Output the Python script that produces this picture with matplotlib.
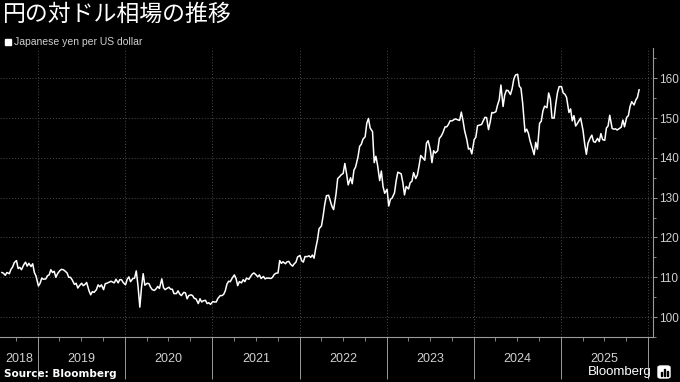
import matplotlib
matplotlib.use('Agg')
import matplotlib.pyplot as plt
import matplotlib.dates as mdates
import matplotlib.patches as patches
import pandas as pd

# weekly-ish readings, four per month, Aug 2018 .. Nov 2025
months = pd.period_range('2018-08', '2025-11', freq='M')
week_days = [3, 10, 17, 24]
yen = [
    # 2018
    111.2, 111.0, 110.5, 111.2,
    110.9, 112.0, 112.6, 113.7,
    114.2, 112.2, 112.5, 111.9,
    113.2, 113.8, 112.8, 113.5,
    112.7, 113.4, 111.2, 110.3,
    # 2019
    107.8, 108.5, 109.8, 109.5,
    109.6, 110.4, 110.6, 111.9,
    111.2, 111.5, 110.0, 110.9,
    111.7, 112.0, 111.9, 111.6,
    111.1, 110.0, 110.0, 109.4,
    108.2, 108.5, 107.3, 107.9,
    108.5, 107.9, 108.2, 108.7,
    106.6, 105.6, 106.4, 106.2,
    106.9, 108.1, 107.6, 108.1,
    106.9, 108.4, 108.5, 108.7,
    109.0, 108.8, 108.6, 109.5,
    108.6, 109.4, 109.4, 108.7,
    # 2020
    108.1, 109.5, 110.1, 108.9,
    109.7, 109.8, 111.6, 108.0,
    102.5, 107.5, 110.9, 108.0,
    108.5, 108.4, 107.5, 106.9,
    106.7, 107.1, 107.7, 107.2,
    109.6, 107.4, 106.9, 107.2,
    107.5, 107.0, 107.0, 105.9,
    105.9, 106.6, 105.8, 105.4,
    106.2, 106.1, 104.6, 105.4,
    105.6, 105.4, 104.7, 104.6,
    103.4, 104.6, 103.8, 104.1,
    104.2, 103.4, 103.6, 103.2,
    # 2021
    103.9, 103.8, 103.8, 104.7,
    105.4, 105.4, 105.7, 106.6,
    108.3, 109.0, 108.9, 109.7,
    110.6, 109.7, 107.9, 108.9,
    108.6, 109.4, 108.9, 109.8,
    109.5, 110.2, 110.8, 111.1,
    110.6, 110.1, 110.6, 109.7,
    110.2, 109.6, 109.8, 109.8,
    109.7, 110.0, 110.7, 111.0,
    111.1, 114.2, 113.5, 113.9,
    113.4, 113.9, 114.0, 113.3,
    112.8, 113.4, 113.8, 115.1,
    # 2022
    115.5, 114.2, 113.8, 115.2,
    115.2, 115.4, 115.0, 115.6,
    114.8, 117.3, 119.3, 122.2,
    122.9, 125.4, 128.4, 130.5,
    130.6, 129.2, 127.8, 127.0,
    130.9, 134.8, 135.2, 135.7,
    136.1, 138.6, 136.1, 133.2,
    135.0, 133.5, 136.9, 137.7,
    140.2, 142.9, 143.4, 144.7,
    145.3, 148.7, 149.9, 147.5,
    146.6, 138.8, 140.4, 138.2,
    134.3, 136.7, 132.8, 131.1,
    # 2023
    132.1, 127.9, 129.6, 129.9,
    131.2, 134.2, 136.4, 136.2,
    136.0, 133.8, 130.7, 132.8,
    132.2, 133.8, 134.1, 136.3,
    134.8, 135.7, 138.0, 140.6,
    139.9, 139.4, 143.7, 144.3,
    142.1, 138.8, 141.8, 141.2,
    141.8, 144.9, 145.4, 146.2,
    147.8, 147.8, 148.4, 149.3,
    149.3, 149.6, 149.8, 149.6,
    149.4, 151.5, 149.4, 146.8,
    144.6, 142.2, 142.4, 141.0,
    # 2024
    144.6, 145.2, 148.1, 148.2,
    148.4, 149.3, 150.2, 150.1,
    147.1, 149.0, 151.4, 151.3,
    151.6, 153.3, 154.6, 158.3,
    152.9, 155.8, 157.0, 156.9,
    155.9, 157.4, 159.8, 160.8,
    161.0, 158.0, 157.5, 153.8,
    146.5, 147.2, 146.2, 144.3,
    142.3, 140.8, 143.9, 142.2,
    148.7, 149.2, 151.8, 153.0,
    152.6, 156.3, 154.8, 150.0,
    150.0, 153.6, 156.4, 157.9,
    # 2025
    157.9, 156.3, 156.0, 155.2,
    151.4, 152.3, 149.3, 150.6,
    148.0, 148.6, 149.3, 150.0,
    146.9, 143.5, 140.9, 143.7,
    145.0, 145.7, 144.1, 143.9,
    144.9, 144.1, 146.1, 144.6,
    144.4, 147.5, 148.0, 150.7,
    147.4, 147.2, 147.3, 147.0,
    147.4, 147.7, 149.5, 147.8,
    150.2, 150.6, 152.9, 154.1,
    153.3, 154.5, 155.2, 157.1,
]
years = list(range(2018, 2026))
yticks = [100, 110, 120, 130, 140, 150, 160]

dates = [pd.Timestamp(year=m.year, month=m.month, day=d) for m in months for d in week_days]

plt.rcParams['font.family'] = ['Liberation Sans', 'DejaVu Sans']
bg = '#000000'
grid_c = '#4a4a4a'
txt_c = '#d0d0d0'

fig = plt.figure(figsize=(6.8, 3.82), dpi=100, facecolor=bg)
ax = fig.add_axes([0.0, 45 / 382, 652.7 / 680, 289 / 382])
ax.set_facecolor(bg)

ax.plot(dates, yen, color='white', lw=1.1, solid_joinstyle='round')

ax.set_xlim(pd.Timestamp('2018-07-26'), pd.Timestamp('2026-01-20'))
ax.set_ylim(96.5, 167.6)

for s in ['left', 'top']:
    ax.spines[s].set_visible(False)
for s in ['right', 'bottom']:
    ax.spines[s].set_color('#9a9a9a')
    ax.spines[s].set_linewidth(0.8)

ax.yaxis.tick_right()
ax.set_yticks(yticks)
ax.set_yticks(range(95, 166, 5), minor=True)
ax.tick_params(axis='y', which='major', colors='#9a9a9a', labelcolor=txt_c,
               labelsize=8.5, length=3, width=0.7, pad=1.5)
ax.tick_params(axis='y', which='minor', colors='#9a9a9a', length=2, width=0.6)

# year separators on the date axis, quarter minor ticks
year_starts = [pd.Timestamp(year=y, month=1, day=1) for y in years[1:] + [2026]]
ax.set_xticks(year_starts)
ax.set_xticklabels([])
ax.xaxis.set_minor_locator(mdates.MonthLocator(bymonth=[4, 7, 10]))
ax.tick_params(axis='x', which='major', colors='#9a9a9a', length=30, width=0.7)
ax.tick_params(axis='x', which='minor', colors='#9a9a9a', length=3, width=0.6)

ax.grid(True, which='major', color=grid_c, linestyle=(0, (1, 2)), linewidth=0.7)

left = ax.get_xlim()[0]
for y in years:
    a = max(mdates.date2num(pd.Timestamp(year=y, month=1, day=1)), left)
    b = mdates.date2num(pd.Timestamp(year=y + 1, month=1, day=1))
    ax.text((a + b) / 2, -0.075, str(y), transform=ax.get_xaxis_transform(),
            ha='center', va='center', color=txt_c, fontsize=9)

fig.text(0.004, 0.993, '円の対ドル相場の推移', ha='left', va='top', color='white',
         fontsize=16.5, family=['Noto Sans CJK JP', 'DejaVu Sans'])
fig.patches.append(patches.Rectangle((5 / 680, 1 - 45 / 382), 6 / 680, 6 / 382,
                                     transform=fig.transFigure, color='white'))
fig.text(14 / 680, 1 - 42 / 382, 'Japanese yen per US dollar', ha='left', va='center',
         color=txt_c, fontsize=7.5)
fig.text(4 / 680, 1 - 374 / 382, 'Source: Bloomberg', ha='left', va='center',
         color='white', fontsize=7.5, fontweight='bold', family='DejaVu Sans')
fig.text(652 / 680, 1 - 372 / 382, 'Bloomberg', ha='right', va='center',
         color='white', fontsize=9.5)
fig.patches.append(patches.FancyBboxPatch((658 / 680, 1 - 378 / 382), 12 / 680, 12 / 382,
                                          boxstyle='round,pad=0,rounding_size=0.004',
                                          transform=fig.transFigure, color='white'))
for i, h in enumerate([4, 7, 5]):
    fig.patches.append(patches.Rectangle(((660.5 + i * 3) / 680, 1 - 376 / 382), 1.6 / 680, h / 382,
                                         transform=fig.transFigure, color='black'))

fig.savefig('out.png', dpi=100, facecolor=bg)
